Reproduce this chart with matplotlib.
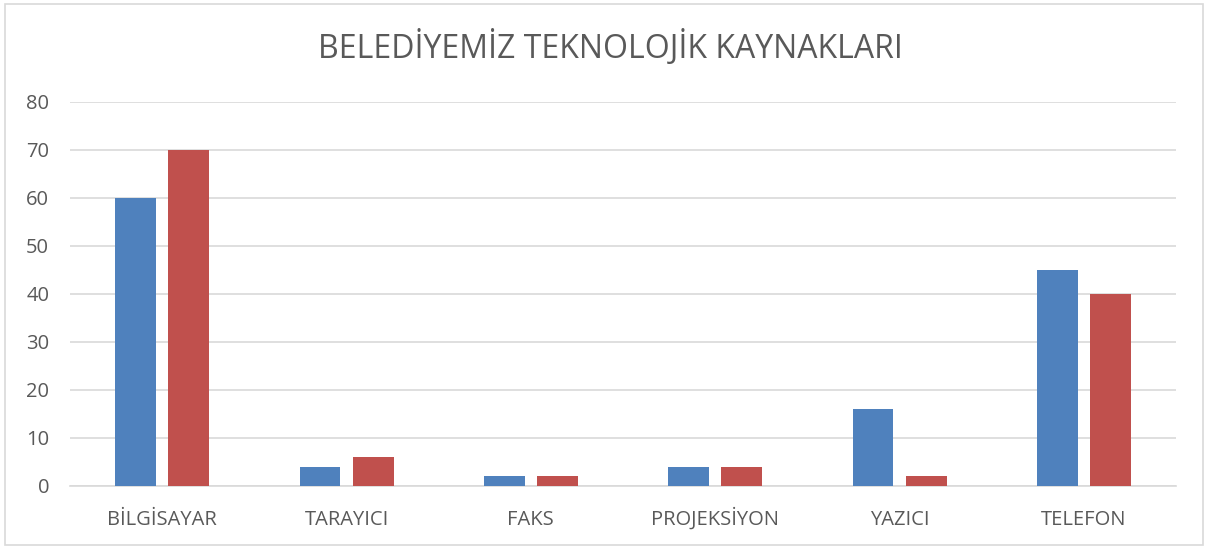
import numpy as np
import matplotlib.pyplot as plt
from matplotlib.patches import Rectangle

plt.rcParams['font.family'] = ['Open Sans', 'DejaVu Sans']

# Veriler
kategoriler = ['BİLGİSAYAR', 'TARAYICI', 'FAKS', 'PROJEKSİYON', 'YAZICI', 'TELEFON']
seri_mavi = [60, 4, 2, 4, 16, 45]
seri_kirmizi = [70, 6, 2, 4, 2, 40]
y_ticks = [0, 10, 20, 30, 40, 50, 60, 70, 80]

fig = plt.figure(figsize=(12.08, 5.49), dpi=100)
ax = fig.add_axes([0.058, 0.1148, 0.9155, 0.6995])

x = np.arange(len(kategoriler))
w = 0.222
off = 0.144
ax.bar(x - off, seri_mavi, w, color='#4f81bd', zorder=3)
ax.bar(x + off, seri_kirmizi, w, color='#c0504d', zorder=3)

ax.set_xlim(-0.5, len(kategoriler) - 0.5)
ax.set_ylim(0, 80)
ax.set_yticks(y_ticks)
ax.set_xticks(x)
ax.set_xticklabels(kategoriler)
ax.tick_params(axis='both', length=0, labelsize=14.5, colors='#595959')
ax.tick_params(axis='y', pad=15)
ax.tick_params(axis='x', pad=28)
for lbl in ax.get_xticklabels():
    lbl.set_verticalalignment('baseline')
ax.grid(axis='y', color='#d9d9d9', linewidth=1.2, zorder=0)
for s in ['top', 'right', 'left']:
    ax.spines[s].set_visible(False)
ax.spines['bottom'].set_color('#d9d9d9')
ax.spines['bottom'].set_linewidth(1.2)

fig.text(0.505, 0.913, 'BELEDİYEMİZ TEKNOLOJİK KAYNAKLARI', ha='center', va='center',
         fontsize=23, color='#595959')

fig.patches.append(Rectangle((0.004, 0.008), 0.992, 0.984, transform=fig.transFigure,
                             fill=False, edgecolor='#d9d9d9', linewidth=1.2))

fig.savefig('out.png', dpi=100)
